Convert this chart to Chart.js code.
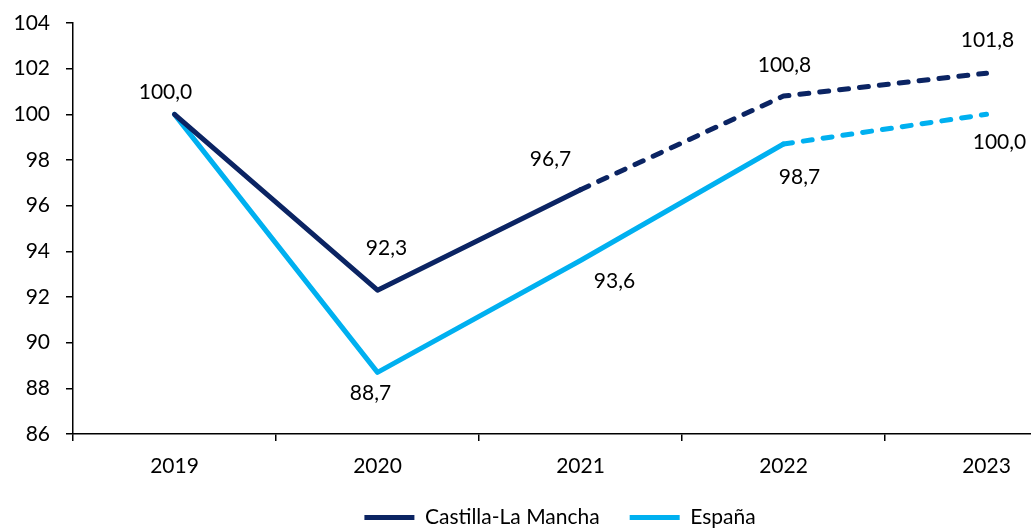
<!DOCTYPE html>
<html>
<head>
<meta charset="utf-8">
<script src="https://cdn.jsdelivr.net/npm/chart.js@4"></script>
<style>
  html, body { margin: 0; padding: 0; background: #fff; overflow: hidden; }
  #wrap { width: 1120px; height: 530px; }
</style>
</head>
<body>
<div id="wrap"><canvas id="myChart" width="1120" height="530"></canvas></div>
<script>
// datos
var years = ['2019', '2020', '2021', '2022', '2023'];
var clmValues = [100.0, 92.3, 96.7, 100.8, 101.8];
var espValues = [100.0, 88.7, 93.6, 98.7, 100.0];
var yMin = 86, yMax = 104, yStep = 2;
// a partir de este indice la linea va discontinua (previsiones)
var clmDashFrom = 2;
var espDashFrom = 3;

var navy = '#0B2463';
var sky = '#00B0F0';
var fontName = 'Lato';
var fontSize = 21;

// posicion de cada etiqueta respecto al punto (dx, dy); null = sin etiqueta
var clmLabelPos = [[-9, -22], [9, -42], [-30, -30], [1, -31], [1, -33]];
var espLabelPos = [null, [-7, 21], [34, 21], [16, 33], [13, 28]];

function dashFrom(n) {
	return function(ctx) { return ctx.p0DataIndex >= n ? [9, 11] : []; };
}

var valueLabels = {
	id: 'valueLabels',
	afterLayout: function(chart) {
		// centrar la leyenda en el lienzo (como en el original)
		var lg = chart.legend;
		if (!lg) return;
		var shift = chart.width / 2 - (lg.left + lg.right) / 2;
		lg.left += shift;
		lg.right += shift;
	},
	afterDatasetsDraw: function(chart) {
		var c = chart.ctx;
		var posList = [clmLabelPos, espLabelPos];
		c.save();
		c.font = fontSize + 'px ' + fontName;
		c.fillStyle = '#000';
		c.textAlign = 'center';
		c.textBaseline = 'middle';
		chart.data.datasets.forEach(function(ds, di) {
			var meta = chart.getDatasetMeta(di);
			meta.data.forEach(function(pt, i) {
				var p = posList[di][i];
				if (!p) return;
				var txt = ds.data[i].toFixed(1).replace('.', ',');
				c.fillText(txt, pt.x + p[0], pt.y + p[1]);
			});
		});
		c.restore();
	}
};

var ctx = document.getElementById('myChart').getContext('2d');

var myChart = new Chart(ctx, {
	type: 'line',
	data: {
		labels: years,
		datasets: [{
			label: 'Castilla-La Mancha',
			data: clmValues,
			borderColor: navy,
			backgroundColor: navy,
			borderWidth: 5,
			borderCapStyle: 'round',
			borderJoinStyle: 'round',
			pointRadius: 0,
			tension: 0,
			segment: { borderDash: dashFrom(clmDashFrom) }
		}, {
			label: 'España',
			data: espValues,
			borderColor: sky,
			backgroundColor: sky,
			borderWidth: 5,
			borderCapStyle: 'round',
			borderJoinStyle: 'round',
			pointRadius: 0,
			tension: 0,
			segment: { borderDash: dashFrom(espDashFrom) }
		}]
	},
	options: {
		responsive: false,
		animation: false,
		layout: { padding: { top: 23, left: 14, right: 32, bottom: -8 } },
		plugins: {
			tooltip: { enabled: false },
			legend: {
				position: 'bottom',
				labels: {
					usePointStyle: true,
					pointStyle: 'line',
					pointStyleWidth: 50,
					boxWidth: 50,
					padding: 30,
					color: '#000',
					font: { family: fontName, size: fontSize }
				}
			}
		},
		scales: {
			x: {
				offset: true,
				border: { display: true, color: '#000', width: 1.5 },
				grid: { offset: true, drawOnChartArea: false, drawTicks: true, tickLength: 7, color: '#000', lineWidth: 1.5 },
				ticks: { color: '#000', padding: 13, maxRotation: 0, font: { family: fontName, size: fontSize } },
				afterFit: function(scale) { scale.height = 43; }
			},
			y: {
				min: yMin,
				max: yMax,
				border: { display: true, color: '#000', width: 1.5 },
				grid: { drawOnChartArea: false, drawTicks: true, tickLength: 7, color: '#000', lineWidth: 1.5 },
				ticks: { stepSize: yStep, color: '#000', padding: 16, font: { family: fontName, size: fontSize } },
				afterFit: function(scale) {
					scale.width = 59;
					scale.paddingTop = 0;
					scale.paddingBottom = 0;
				}
			}
		}
	},
	plugins: [valueLabels]
});
</script>
</body>
</html>
